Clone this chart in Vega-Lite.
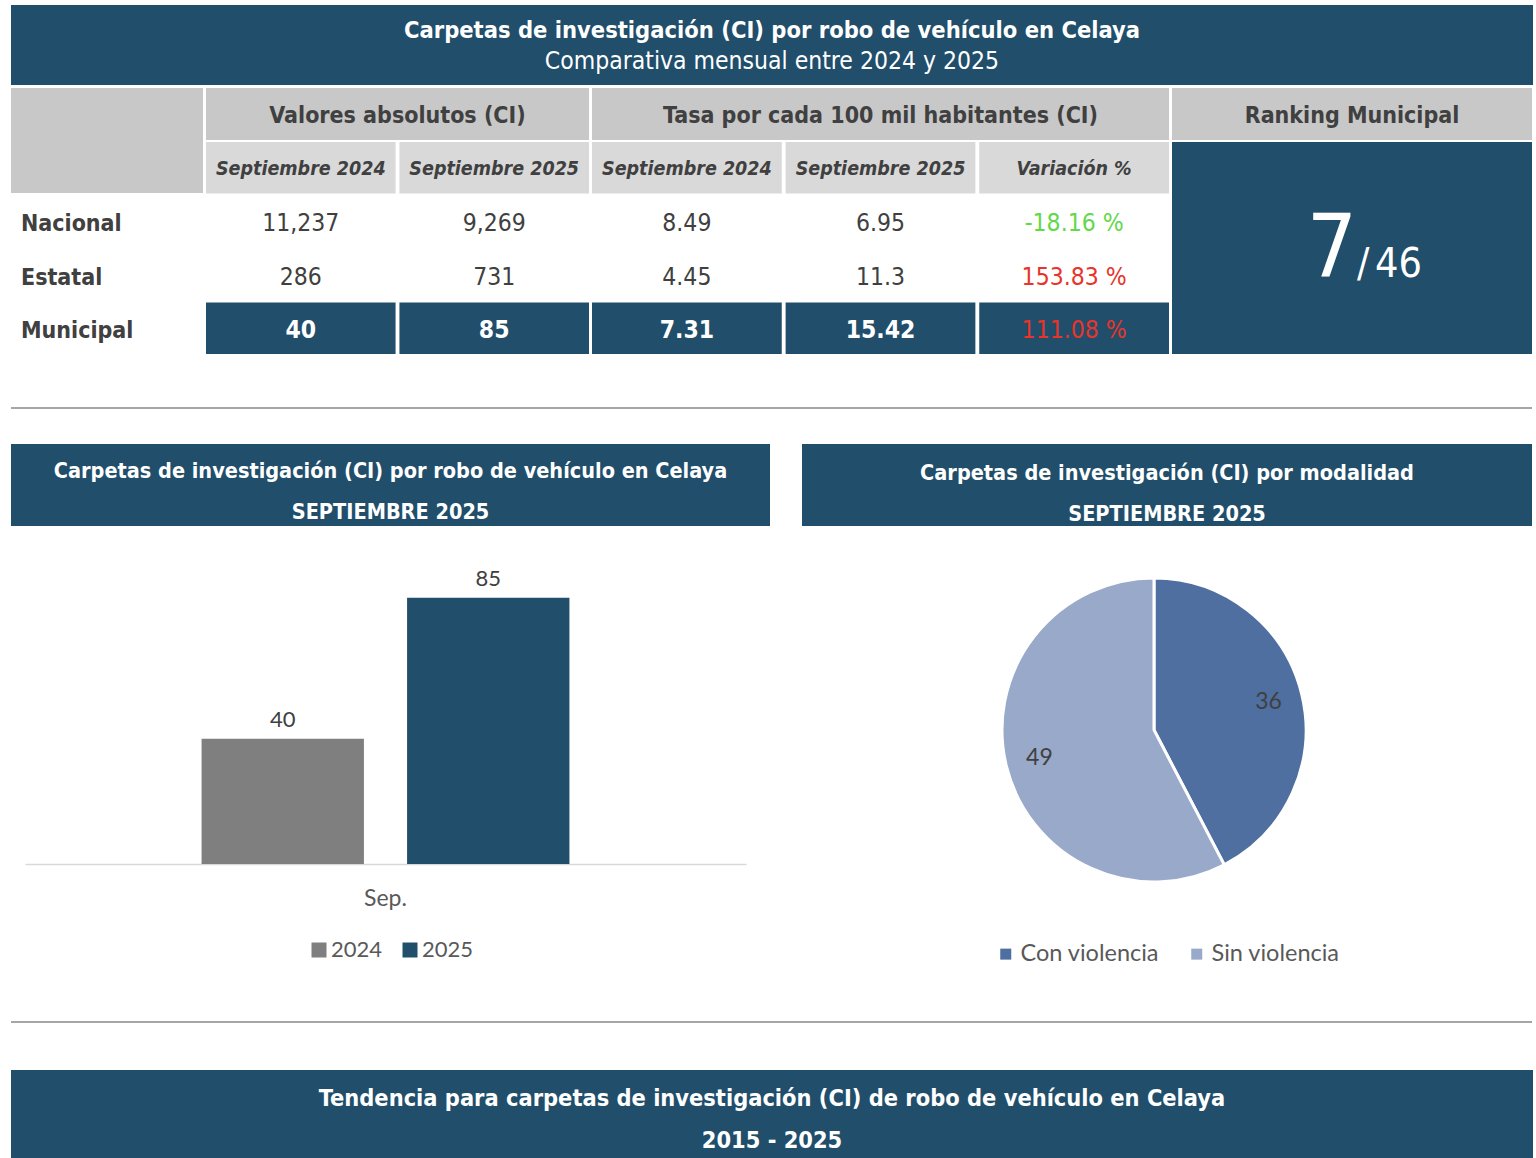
{
  "$schema": "https://vega.github.io/schema/vega-lite/v6.json",
  "background": "white",
  "padding": {"left": 11, "top": 5, "right": 0, "bottom": 0},
  "spacing": 0,
  "config": {
    "view": {"stroke": null},
    "locale": {"number": {"decimal": ".", "thousands": ",", "grouping": [3], "currency": ["", " %"], "minus": "-"}},
    "legend": {"layout": {"bottom": {"anchor": "middle"}}}
  },
  "resolve": {"scale": {"color": "independent"}, "legend": {"color": "independent"}},
  "datasets": {
    "titulos": [
      {"panel": "principal", "linea": 1, "texto": "Carpetas de investigación (CI) por robo de vehículo en Celaya"},
      {"panel": "principal", "linea": 2, "texto": "Comparativa mensual entre 2024 y 2025"},
      {"panel": "barras", "linea": 1, "texto": "Carpetas de investigación (CI) por robo de vehículo en Celaya"},
      {"panel": "barras", "linea": 2, "texto": "SEPTIEMBRE 2025"},
      {"panel": "modalidad", "linea": 1, "texto": "Carpetas de investigación (CI) por modalidad"},
      {"panel": "modalidad", "linea": 2, "texto": "SEPTIEMBRE 2025"},
      {"panel": "tendencia", "linea": 1, "texto": "Tendencia para carpetas de investigación (CI) de robo de vehículo en Celaya"},
      {"panel": "tendencia", "linea": 2, "texto": "2015 - 2025"},
      {"panel": "ranking", "linea": 1, "texto": "Ranking Municipal"}
    ],
    "columnas": [
      {"grupo": "Valores absolutos (CI)", "columna": "Septiembre 2024"},
      {"grupo": "Valores absolutos (CI)", "columna": "Septiembre 2025"},
      {"grupo": "Tasa por cada 100 mil habitantes (CI)", "columna": "Septiembre 2024"},
      {"grupo": "Tasa por cada 100 mil habitantes (CI)", "columna": "Septiembre 2025"},
      {"grupo": "Tasa por cada 100 mil habitantes (CI)", "columna": "Variación %"}
    ],
    "tabla": [
      {"nivel": "Nacional", "periodo": "Septiembre 2024", "ci": 11237, "tasa": 8.49},
      {"nivel": "Nacional", "periodo": "Septiembre 2025", "ci": 9269, "tasa": 6.95},
      {"nivel": "Estatal", "periodo": "Septiembre 2024", "ci": 286, "tasa": 4.45},
      {"nivel": "Estatal", "periodo": "Septiembre 2025", "ci": 731, "tasa": 11.3},
      {"nivel": "Municipal", "periodo": "Septiembre 2024", "ci": 40, "tasa": 7.31},
      {"nivel": "Municipal", "periodo": "Septiembre 2025", "ci": 85, "tasa": 15.42}
    ],
    "variacion": [
      {"nivel": "Nacional", "variacion": -18.16},
      {"nivel": "Estatal", "variacion": 153.83},
      {"nivel": "Municipal", "variacion": 111.08}
    ],
    "ranking": [{"municipio": "Celaya", "posicion": 7, "total": 46}],
    "barras": [
      {"mes": "Sep.", "anio": "2024", "ci": 40},
      {"mes": "Sep.", "anio": "2025", "ci": 85}
    ],
    "modalidad": [
      {"modalidad": "Con violencia", "ci": 36},
      {"modalidad": "Sin violencia", "ci": 49}
    ]
  },
  "vconcat": [
    {
      "width": 1522, "height": 80,
      "view": {"fill": "#204e6b", "stroke": null},
      "data": {"name": "titulos"},
      "transform": [{"filter": "datum.panel == 'principal'"}],
      "encoding": {
        "y": {"field": "linea", "type": "ordinal", "axis": null, "scale": {"type": "band", "domain": [1, 2], "paddingInner": 0, "paddingOuter": 0.3333}},
        "text": {"field": "texto"}
      },
      "layer": [
        {"transform": [{"filter": "datum.linea == 1"}], "mark": {"type": "text", "font": "DejaVu Sans Condensed", "fontWeight": "bold", "fontSize": 23.5, "color": "white", "dy": 1}},
        {"transform": [{"filter": "datum.linea == 2"}], "mark": {"type": "text", "font": "DejaVu Sans Condensed", "fontSize": 24.5, "color": "white", "dy": 2}}
      ]
    },
    {"width": 1, "height": 3, "data": {"name": "ranking"}, "mark": {"type": "text", "fontSize": 0}, "encoding": {"text": {"value": ""}}},
    {
      "spacing": 3,
      "hconcat": [
        {
          "spacing": 2,
          "vconcat": [
            {"width": 192, "height": 105, "view": {"fill": "#c8c8c8", "stroke": null}, "data": {"name": "ranking"}, "mark": {"type": "text", "fontSize": 0}, "encoding": {"text": {"value": ""}}},
            {
              "width": 192, "height": 159,
              "data": {"name": "variacion"},
              "mark": {"type": "text", "font": "DejaVu Sans Condensed", "fontWeight": "bold", "fontSize": 23, "color": "#404040", "align": "left", "dx": -22, "dy": 3},
              "encoding": {
                "x": {"datum": "Nivel", "type": "nominal", "scale": {"type": "band", "paddingInner": 0, "paddingOuter": 1, "align": 0}, "axis": null},
                "y": {"field": "nivel", "type": "nominal", "scale": {"type": "band", "domain": ["Nacional", "Estatal", "Municipal"], "paddingInner": 0.04, "paddingOuter": 0}, "axis": null},
                "text": {"field": "nivel"}
              }
            }
          ]
        },
        {
          "spacing": 2,
          "vconcat": [
            {
              "width": 383, "height": 52,
              "view": {"fill": "#c8c8c8", "stroke": null},
              "data": {"name": "columnas"},
              "transform": [{"filter": "datum.grupo == 'Valores absolutos (CI)'"}, {"aggregate": [{"op": "count", "as": "n"}], "groupby": ["grupo"]}],
              "mark": {"type": "text", "font": "DejaVu Sans Condensed", "fontWeight": "bold", "fontSize": 23, "color": "#404040", "dy": 2},
              "encoding": {"text": {"field": "grupo"}}
            },
            {
              "width": 383, "height": 212,
              "layer": [
                {
                  "data": {"name": "columnas"},
                  "transform": [{"filter": "datum.grupo == 'Valores absolutos (CI)'"}],
                  "mark": {"type": "rect", "color": "#d9d9d9"},
                  "encoding": {
                    "x": {"field": "columna", "type": "nominal", "scale": {"domain": ["Septiembre 2024", "Septiembre 2025"], "paddingInner": 0.02, "paddingOuter": 0}, "axis": null},
                    "y": {"datum": "encabezado", "type": "nominal", "scale": {"domain": ["encabezado", "Nacional", "Estatal", "Municipal"], "paddingInner": 0.04, "paddingOuter": 0}, "axis": null}
                  }
                },
                {
                  "data": {"name": "columnas"},
                  "transform": [{"filter": "datum.grupo == 'Valores absolutos (CI)'"}],
                  "mark": {"type": "text", "font": "DejaVu Sans Condensed", "fontWeight": "bold", "fontStyle": "italic", "fontSize": 19.5, "color": "#404040", "dy": 1},
                  "encoding": {
                    "x": {"field": "columna", "type": "nominal", "axis": null},
                    "y": {"datum": "encabezado", "type": "nominal", "axis": null},
                    "text": {"field": "columna"}
                  }
                },
                {
                  "data": {"name": "columnas"},
                  "transform": [{"filter": "datum.grupo == 'Valores absolutos (CI)'"}],
                  "mark": {"type": "rect", "color": "#204e6b"},
                  "encoding": {
                    "x": {"field": "columna", "type": "nominal", "axis": null},
                    "y": {"datum": "Municipal", "type": "nominal", "axis": null}
                  }
                },
                {
                  "data": {"name": "tabla"},
                  "transform": [{"filter": "datum.nivel != 'Municipal'"}],
                  "mark": {"type": "text", "font": "DejaVu Sans Condensed", "fontSize": 24.5, "color": "#404040", "dy": 3},
                  "encoding": {
                    "x": {"field": "periodo", "type": "nominal", "axis": null},
                    "y": {"field": "nivel", "type": "nominal", "axis": null},
                    "text": {"field": "ci", "type": "quantitative", "format": ","}
                  }
                },
                {
                  "data": {"name": "tabla"},
                  "transform": [{"filter": "datum.nivel == 'Municipal'"}],
                  "mark": {"type": "text", "font": "DejaVu Sans Condensed", "fontWeight": "bold", "fontSize": 24.5, "color": "white", "dy": 3},
                  "encoding": {
                    "x": {"field": "periodo", "type": "nominal", "axis": null},
                    "y": {"field": "nivel", "type": "nominal", "axis": null},
                    "text": {"field": "ci", "type": "quantitative", "format": ","}
                  }
                }
              ]
            }
          ]
        },
        {
          "spacing": 2,
          "vconcat": [
            {
              "width": 577, "height": 52,
              "view": {"fill": "#c8c8c8", "stroke": null},
              "data": {"name": "columnas"},
              "transform": [{"filter": "datum.grupo == 'Tasa por cada 100 mil habitantes (CI)'"}, {"aggregate": [{"op": "count", "as": "n"}], "groupby": ["grupo"]}],
              "mark": {"type": "text", "font": "DejaVu Sans Condensed", "fontWeight": "bold", "fontSize": 23, "color": "#404040", "dy": 2},
              "encoding": {"text": {"field": "grupo"}}
            },
            {
              "width": 577, "height": 212,
              "layer": [
                {
                  "data": {"name": "columnas"},
                  "transform": [{"filter": "datum.grupo == 'Tasa por cada 100 mil habitantes (CI)'"}],
                  "mark": {"type": "rect", "color": "#d9d9d9"},
                  "encoding": {
                    "x": {"field": "columna", "type": "nominal", "scale": {"domain": ["Septiembre 2024", "Septiembre 2025", "Variación %"], "paddingInner": 0.02, "paddingOuter": 0}, "axis": null},
                    "y": {"datum": "encabezado", "type": "nominal", "scale": {"domain": ["encabezado", "Nacional", "Estatal", "Municipal"], "paddingInner": 0.04, "paddingOuter": 0}, "axis": null}
                  }
                },
                {
                  "data": {"name": "columnas"},
                  "transform": [{"filter": "datum.grupo == 'Tasa por cada 100 mil habitantes (CI)'"}],
                  "mark": {"type": "text", "font": "DejaVu Sans Condensed", "fontWeight": "bold", "fontStyle": "italic", "fontSize": 19.5, "color": "#404040", "dy": 1},
                  "encoding": {
                    "x": {"field": "columna", "type": "nominal", "axis": null},
                    "y": {"datum": "encabezado", "type": "nominal", "axis": null},
                    "text": {"field": "columna"}
                  }
                },
                {
                  "data": {"name": "columnas"},
                  "transform": [{"filter": "datum.grupo == 'Tasa por cada 100 mil habitantes (CI)'"}],
                  "mark": {"type": "rect", "color": "#204e6b"},
                  "encoding": {
                    "x": {"field": "columna", "type": "nominal", "axis": null},
                    "y": {"datum": "Municipal", "type": "nominal", "axis": null}
                  }
                },
                {
                  "data": {"name": "tabla"},
                  "transform": [{"filter": "datum.nivel != 'Municipal'"}],
                  "mark": {"type": "text", "font": "DejaVu Sans Condensed", "fontSize": 24.5, "color": "#404040", "dy": 3},
                  "encoding": {
                    "x": {"field": "periodo", "type": "nominal", "axis": null},
                    "y": {"field": "nivel", "type": "nominal", "axis": null},
                    "text": {"field": "tasa", "type": "quantitative"}
                  }
                },
                {
                  "data": {"name": "tabla"},
                  "transform": [{"filter": "datum.nivel == 'Municipal'"}],
                  "mark": {"type": "text", "font": "DejaVu Sans Condensed", "fontWeight": "bold", "fontSize": 24.5, "color": "white", "dy": 3},
                  "encoding": {
                    "x": {"field": "periodo", "type": "nominal", "axis": null},
                    "y": {"field": "nivel", "type": "nominal", "axis": null},
                    "text": {"field": "tasa", "type": "quantitative"}
                  }
                },
                {
                  "data": {"name": "variacion"},
                  "mark": {"type": "text", "font": "DejaVu Sans Condensed", "fontSize": 24.5, "dy": 3},
                  "encoding": {
                    "x": {"datum": "Variación %", "type": "nominal", "axis": null},
                    "y": {"field": "nivel", "type": "nominal", "axis": null},
                    "text": {"field": "variacion", "type": "quantitative", "format": "$.2f"},
                    "color": {"condition": {"test": "datum.variacion < 0", "value": "#62d84b"}, "value": "#e8342a"}
                  }
                }
              ]
            }
          ]
        },
        {
          "spacing": 2,
          "vconcat": [
            {
              "width": 360, "height": 52,
              "view": {"fill": "#c8c8c8", "stroke": null},
              "data": {"name": "titulos"},
              "transform": [{"filter": "datum.panel == 'ranking'"}],
              "mark": {"type": "text", "font": "DejaVu Sans Condensed", "fontWeight": "bold", "fontSize": 23, "color": "#404040", "dy": 2},
              "encoding": {"text": {"field": "texto"}}
            },
            {
              "width": 360, "height": 212,
              "view": {"fill": "#204e6b", "stroke": null},
              "data": {"name": "ranking"},
              "layer": [
                {"mark": {"type": "text", "font": "DejaVu Sans Condensed", "fontSize": 88, "color": "white", "align": "right", "baseline": "alphabetic", "dx": 5, "dy": 29}, "encoding": {"text": {"field": "posicion", "type": "quantitative"}}},
                {"mark": {"type": "text", "font": "DejaVu Sans Condensed", "fontSize": 41, "color": "white", "align": "left", "baseline": "alphabetic", "dx": 5, "dy": 29}, "encoding": {"text": {"value": "/"}}},
                {"mark": {"type": "text", "font": "DejaVu Sans Condensed", "fontSize": 41, "color": "white", "align": "left", "baseline": "alphabetic", "dx": 23, "dy": 29}, "encoding": {"text": {"field": "total", "type": "quantitative"}}}
              ]
            }
          ]
        }
      ]
    },
    {"width": 1, "height": 53, "data": {"name": "ranking"}, "mark": {"type": "text", "fontSize": 0}, "encoding": {"text": {"value": ""}}},
    {"width": 1521, "height": 2, "view": {"fill": "#a6a6a6", "stroke": null}, "data": {"name": "ranking"}, "mark": {"type": "text", "fontSize": 0}, "encoding": {"text": {"value": ""}}},
    {"width": 1, "height": 35, "data": {"name": "ranking"}, "mark": {"type": "text", "fontSize": 0}, "encoding": {"text": {"value": ""}}},
    {
      "spacing": 32,
      "resolve": {"scale": {"color": "independent"}, "legend": {"color": "independent"}},
      "hconcat": [
        {
          "spacing": 0,
          "vconcat": [
            {
              "width": 759, "height": 82,
              "view": {"fill": "#204e6b", "stroke": null},
              "data": {"name": "titulos"},
              "transform": [{"filter": "datum.panel == 'barras'"}],
              "mark": {"type": "text", "font": "DejaVu Sans Condensed", "fontWeight": "bold", "fontSize": 21.5, "color": "white", "dy": 7},
              "encoding": {
                "y": {"field": "linea", "type": "ordinal", "axis": null, "scale": {"type": "band", "domain": [1, 2], "paddingInner": 0, "paddingOuter": 0}},
                "text": {"field": "texto"}
              }
            },
            {"width": 1, "height": 41, "data": {"name": "ranking"}, "mark": {"type": "text", "fontSize": 0}, "encoding": {"text": {"value": ""}}},
            {
              "spacing": 13,
              "hconcat": [
                {"width": 1, "height": 1, "data": {"name": "ranking"}, "mark": {"type": "text", "fontSize": 0}, "encoding": {"text": {"value": ""}}},
                {
                  "width": 721, "height": 282,
                  "data": {"name": "barras"},
                  "encoding": {
                    "x": {"field": "mes", "type": "nominal", "title": null, "scale": {"paddingOuter": 0.48, "paddingInner": 0},
                          "axis": {"domainColor": "#d9d9d9", "domainWidth": 1.5, "ticks": false, "grid": false, "labelFont": "Lato", "labelFontSize": 23, "labelColor": "#595959", "labelPadding": 23, "labelAngle": 0}},
                    "xOffset": {"field": "anio", "type": "nominal", "scale": {"paddingInner": 0.21, "paddingOuter": 0}},
                    "y": {"field": "ci", "type": "quantitative", "stack": null, "scale": {"domain": [0, 90]}, "axis": null}
                  },
                  "layer": [
                    {
                      "mark": {"type": "bar"},
                      "encoding": {
                        "color": {"field": "anio", "type": "nominal", "scale": {"domain": ["2024", "2025"], "range": ["#7f7f7f", "#204e6b"]},
                                  "legend": {"orient": "bottom", "direction": "horizontal", "title": null, "symbolType": "square", "symbolSize": 225, "symbolStrokeWidth": 0, "labelFont": "Lato", "labelFontSize": 22, "labelColor": "#595959", "columnPadding": 16, "labelOffset": 1, "offset": 29}}
                      }
                    },
                    {
                      "mark": {"type": "text", "font": "Lato", "fontSize": 22, "color": "#404040", "baseline": "alphabetic", "dy": -12},
                      "encoding": {"text": {"field": "ci", "type": "quantitative"}}
                    }
                  ]
                }
              ]
            }
          ]
        },
        {
          "spacing": 0,
          "vconcat": [
            {
              "width": 730, "height": 82,
              "view": {"fill": "#204e6b", "stroke": null},
              "data": {"name": "titulos"},
              "transform": [{"filter": "datum.panel == 'modalidad'"}],
              "mark": {"type": "text", "font": "DejaVu Sans Condensed", "fontWeight": "bold", "fontSize": 21.5, "color": "white", "dy": 9},
              "encoding": {
                "y": {"field": "linea", "type": "ordinal", "axis": null, "scale": {"type": "band", "domain": [1, 2], "paddingInner": 0, "paddingOuter": 0}},
                "text": {"field": "texto"}
              }
            },
            {
              "width": 704, "height": 408,
              "data": {"name": "modalidad"},
              "encoding": {"theta": {"field": "ci", "type": "quantitative", "stack": true}},
              "layer": [
                {
                  "mark": {"type": "arc", "outerRadius": 152, "stroke": "white", "strokeWidth": 3},
                  "encoding": {
                    "color": {"field": "modalidad", "type": "nominal", "scale": {"domain": ["Con violencia", "Sin violencia"], "range": ["#4e6fa0", "#98a9ca"]},
                              "legend": {"orient": "bottom", "direction": "horizontal", "title": null, "symbolType": "square", "symbolSize": 121, "symbolStrokeWidth": 0, "labelFont": "Lato", "labelFontSize": 23.5, "labelColor": "#595959", "columnPadding": 25, "labelOffset": 3, "offset": 8}}
                  }
                },
                {
                  "mark": {"type": "text", "radius": 118, "font": "Lato", "fontSize": 23, "color": "#404040"},
                  "encoding": {"text": {"field": "ci", "type": "quantitative"}, "detail": {"field": "modalidad"}}
                }
              ]
            }
          ]
        }
      ]
    },
    {"width": 1, "height": 55, "data": {"name": "ranking"}, "mark": {"type": "text", "fontSize": 0}, "encoding": {"text": {"value": ""}}},
    {"width": 1521, "height": 2, "view": {"fill": "#a6a6a6", "stroke": null}, "data": {"name": "ranking"}, "mark": {"type": "text", "fontSize": 0}, "encoding": {"text": {"value": ""}}},
    {"width": 1, "height": 47, "data": {"name": "ranking"}, "mark": {"type": "text", "fontSize": 0}, "encoding": {"text": {"value": ""}}},
    {
      "width": 1522, "height": 88,
      "view": {"fill": "#204e6b", "stroke": null},
      "data": {"name": "titulos"},
      "transform": [{"filter": "datum.panel == 'tendencia'"}],
      "mark": {"type": "text", "font": "DejaVu Sans Condensed", "fontWeight": "bold", "fontSize": 23.4, "color": "white", "dy": 6},
      "encoding": {
        "y": {"field": "linea", "type": "ordinal", "axis": null, "scale": {"type": "band", "domain": [1, 2], "paddingInner": 0, "paddingOuter": 0.06}},
        "text": {"field": "texto"}
      }
    }
  ]
}
